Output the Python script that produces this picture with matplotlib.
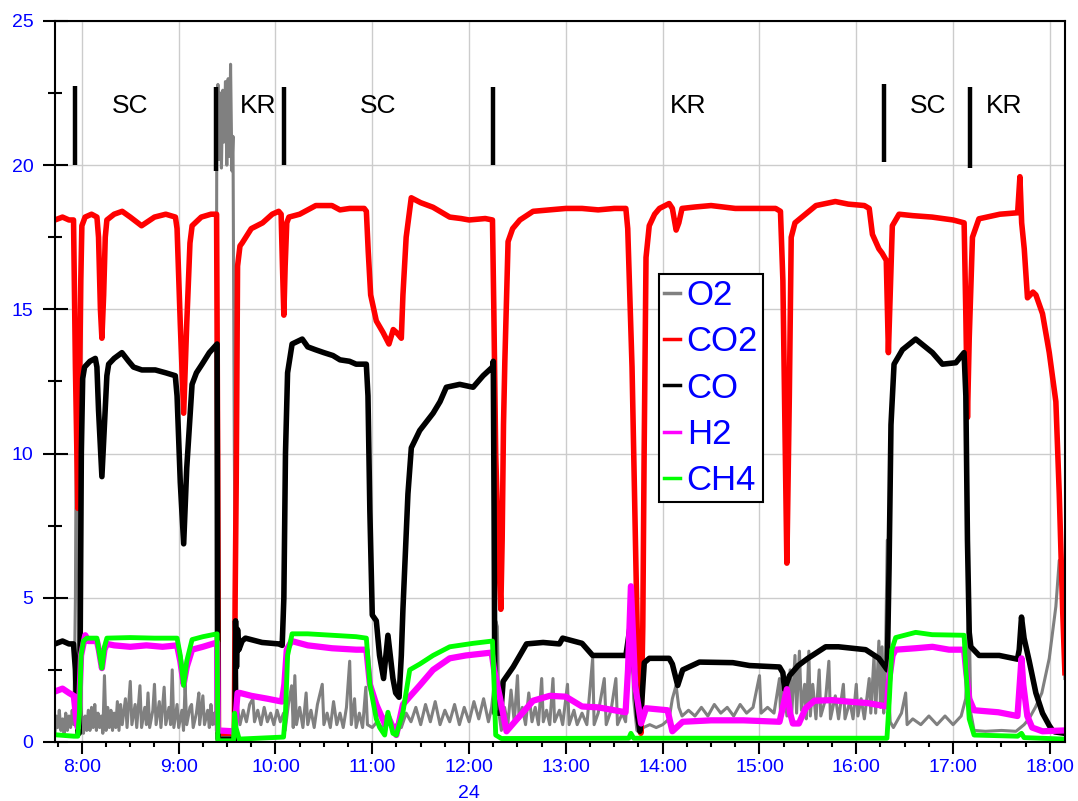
import matplotlib
matplotlib.use("Agg")
import matplotlib.pyplot as plt
import matplotlib.dates as mdates
import matplotlib.transforms as mtransforms
from matplotlib.ticker import FuncFormatter, MultipleLocator
import pandas as pd

plt.rcParams["font.family"] = ["Liberation Sans", "DejaVu Sans"]

day = pd.Timestamp("2008-01-24")

# (clock time, percent)
o2 = [
    ("7:43:20", 0.3), ("7:44", 0.9), ("7:45", 0.5), ("7:46", 1.1), ("7:47", 0.4), ("7:48", 0.8),
    ("7:49", 0.3), ("7:50", 1.0), ("7:51", 0.4), ("7:52", 0.9), ("7:53", 0.5), ("7:54", 1.1),
    ("7:55", 0.6), ("7:56", 5.0), ("7:56:40", 12.5), ("7:57:20", 11.0), ("7:58:10", 4.0),
    ("7:59", 1.5), ("8:00", 0.8), ("8:01", 0.3), ("8:02", 0.9), ("8:03", 0.4), ("8:04", 1.1),
    ("8:05", 0.4), ("8:06", 1.2), ("8:07", 0.5), ("8:08", 1.3), ("8:09", 0.4), ("8:10", 1.0),
    ("8:11", 0.5), ("8:12", 0.9), ("8:13", 0.3), ("8:14", 2.3), ("8:15", 0.4), ("8:16", 1.2),
    ("8:17", 0.5), ("8:18", 1.1), ("8:19", 0.4), ("8:20", 1.0), ("8:21", 0.5), ("8:22", 1.4),
    ("8:23", 0.4), ("8:24", 1.3), ("8:25", 0.6), ("8:27", 1.5), ("8:28", 0.5), ("8:30", 2.1),
    ("8:31", 0.6), ("8:33", 1.3), ("8:34", 0.5), ("8:36", 1.95), ("8:37", 0.5), ("8:39", 1.2),
    ("8:40", 0.6), ("8:41", 1.7), ("8:42", 0.5), ("8:44", 1.1), ("8:45", 2.0), ("8:46", 0.6),
    ("8:48", 1.4), ("8:49", 0.5), ("8:51", 1.9), ("8:52", 0.6), ("8:54", 1.2), ("8:55", 0.6),
    ("8:56", 2.5), ("8:57", 0.5), ("8:59", 1.3), ("9:00", 0.5), ("9:02", 1.1), ("9:03", 0.4),
    ("9:04", 2.0), ("9:05", 0.6), ("9:07", 1.2), ("9:08", 1.3), ("9:09", 0.5), ("9:11", 1.0),
    ("9:12:30", 1.7), ("9:13", 0.6), ("9:15", 1.6), ("9:16", 0.6), ("9:18", 1.1), ("9:19", 0.5),
    ("9:20", 1.3), ("9:21", 0.6), ("9:22", 1.0), ("9:23", 0.6), ("9:23:36", 20.5),
    ("9:24:20", 22.8), ("9:25", 20.2), ("9:25:50", 22.5), ("9:26:30", 19.9), ("9:27:20", 22.6),
    ("9:28", 20.8), ("9:29", 22.9), ("9:29:50", 20.0), ("9:30:40", 23.0), ("9:31:30", 20.3),
    ("9:32:10", 23.5), ("9:33", 19.8), ("9:33:40", 21.0), ("9:34:30", 10.0), ("9:35:20", 3.5),
    ("9:36:30", 1.2), ("9:38", 0.6), ("9:40", 1.1), ("9:42", 0.7), ("9:44", 1.3), ("9:46", 1.5),
    ("9:47", 0.7), ("9:49", 1.1), ("9:51", 0.6), ("9:53", 1.2), ("9:55", 0.7), ("9:57", 1.0),
    ("9:59", 0.6), ("10:01", 1.1), ("10:03", 0.7), ("10:05", 1.0), ("10:06", 0.4), ("10:08", 1.3),
    ("10:10", 1.95), ("10:11", 0.5), ("10:12", 2.3), ("10:13", 0.6), ("10:15", 1.2), ("10:17", 0.5),
    ("10:19", 1.7), ("10:20", 0.6), ("10:22", 1.1), ("10:24", 0.5), ("10:26", 1.3), ("10:29", 2.0),
    ("10:30", 0.6), ("10:32", 1.0), ("10:34", 0.5), ("10:36", 1.4), ("10:38", 0.6), ("10:40", 1.0),
    ("10:42", 0.5), ("10:44", 1.2), ("10:46", 2.8), ("10:47", 0.6), ("10:49", 1.5), ("10:50", 0.5),
    ("10:52", 1.0), ("10:54", 0.5), ("10:56", 1.9), ("10:57", 0.6), ("11:00", 0.5), ("11:03", 0.7),
    ("11:06", 0.5), ("11:09", 0.8), ("11:12", 0.5), ("11:15", 0.6), ("11:18", 0.5), ("11:21", 1.0),
    ("11:24", 0.7), ("11:27", 1.2), ("11:30", 0.6), ("11:33", 1.3), ("11:36", 0.7), ("11:39", 1.4),
    ("11:42", 0.6), ("11:45", 1.1), ("11:48", 0.7), ("11:51", 1.3), ("11:54", 0.6), ("11:57", 1.2),
    ("12:00", 0.7), ("12:03", 1.4), ("12:06", 0.8), ("12:09", 1.5), ("12:12", 0.7), ("12:14", 1.2),
    ("12:15:30", 2.0), ("12:16:30", 4.2), ("12:17:30", 4.0), ("12:18:30", 1.0), ("12:20", 0.4),
    ("12:22", 1.2), ("12:24", 0.6), ("12:26", 1.8), ("12:28", 0.7), ("12:30", 2.3), ("12:31", 0.8),
    ("12:33", 1.2), ("12:35", 0.6), ("12:37", 1.7), ("12:39", 0.7), ("12:41", 1.2), ("12:43", 0.6),
    ("12:45", 2.2), ("12:46", 0.7), ("12:48", 1.1), ("12:50", 0.6), ("12:52", 2.2), ("12:53", 0.7),
    ("12:56", 1.1), ("12:58", 0.6), ("13:01", 2.0), ("13:02", 0.6), ("13:05", 1.1), ("13:07", 0.6),
    ("13:10", 1.0), ("13:13", 0.6), ("13:16:36", 2.9), ("13:17:30", 0.6), ("13:20", 1.0),
    ("13:23:48", 2.2), ("13:25", 0.6), ("13:28", 1.1), ("13:31", 2.2), ("13:32", 0.6), ("13:35", 1.0),
    ("13:37", 0.7), ("13:39", 2.5), ("13:40:30", 4.5), ("13:42", 1.5), ("13:44", 0.4), ("13:46", 0.3),
    ("13:48", 0.5), ("13:52", 0.6), ("13:56", 0.5), ("14:00", 0.6), ("14:04", 0.8), ("14:06", 1.5),
    ("14:08:18", 1.96), ("14:10", 1.2), ("14:12", 0.9), ("14:16", 1.1), ("14:20", 0.9), ("14:24", 1.2),
    ("14:28", 0.9), ("14:32", 1.3), ("14:36", 1.0), ("14:40", 1.2), ("14:44", 0.9), ("14:48", 1.3),
    ("14:52", 1.0), ("14:56", 1.2), ("15:00", 2.3), ("15:01", 1.0), ("15:05", 1.2), ("15:09", 1.0),
    ("15:12:24", 2.2), ("15:13", 1.0), ("15:15", 2.0), ("15:17", 0.9), ("15:19", 2.5), ("15:20", 1.0),
    ("15:22", 3.0), ("15:23", 1.0), ("15:24:45", 3.15), ("15:26", 1.1), ("15:28", 2.0), ("15:29", 0.8),
    ("15:30:36", 3.15), ("15:31:30", 0.9), ("15:33", 2.0), ("15:35", 0.8), ("15:37", 2.5),
    ("15:38", 0.9), ("15:41", 1.5), ("15:43", 2.8), ("15:44", 0.8), ("15:47", 1.6), ("15:49", 0.8),
    ("15:52", 2.0), ("15:53", 0.8), ("15:56", 1.4), ("15:58", 0.8), ("16:00", 2.0), ("16:01", 0.9),
    ("16:03", 1.5), ("16:05", 0.8), ("16:08", 2.2), ("16:09", 1.0), ("16:11", 3.0), ("16:12", 1.0),
    ("16:14", 3.5), ("16:15", 1.2), ("16:16", 3.3), ("16:17", 1.0), ("16:18", 2.5), ("16:19:12", 7.0),
    ("16:20", 2.0), ("16:21", 0.7), ("16:23", 0.5), ("16:26", 0.8), ("16:28", 1.0), ("16:30:36", 1.7),
    ("16:31:30", 0.6), ("16:35", 0.8), ("16:40", 0.6), ("16:45", 0.9), ("16:50", 0.6), ("16:55", 0.9),
    ("17:00", 0.6), ("17:05", 0.9), ("17:07:50", 1.5), ("17:09:50", 4.7), ("17:11", 1.0),
    ("17:13", 0.4), ("17:20", 0.37), ("17:30", 0.4), ("17:39", 0.37), ("17:44", 0.6), ("17:47", 0.8),
    ("17:51", 1.2), ("17:55", 1.7), ("17:59:36", 2.9), ("18:03:42", 4.7), ("18:05:48", 6.3),
    ("18:07:54", 5.5), ("18:09:18", 2.2),
]

co2 = [
    ("7:43:20", 18.1), ("7:48", 18.2), ("7:52", 18.1), ("7:54:50", 18.1), ("7:56", 13.0),
    ("7:57:30", 8.1), ("7:58:30", 12.0), ("7:59:20", 16.0), ("8:00", 17.9), ("8:02", 18.2),
    ("8:06", 18.3), ("8:09:20", 18.2), ("8:10:20", 17.5), ("8:11:30", 15.0), ("8:12:25", 14.0),
    ("8:13:30", 15.5), ("8:14:30", 17.5), ("8:15:30", 18.1), ("8:20", 18.3), ("8:25", 18.4),
    ("8:30", 18.2), ("8:37", 17.9), ("8:45", 18.2), ("8:52", 18.3), ("8:58", 18.2), ("8:59", 17.8),
    ("9:01", 14.5), ("9:03:06", 11.4), ("9:05", 14.5), ("9:07", 17.3), ("9:08:20", 17.9),
    ("9:14", 18.2), ("9:20", 18.3), ("9:23:30", 18.3), ("9:24:10", 10.0), ("9:24:40", 0.3),
    ("9:34:30", 0.3), ("9:35", 5.0), ("9:35:40", 9.0), ("9:36:30", 16.5), ("9:38", 17.2),
    ("9:39:20", 17.3), ("9:45", 17.8), ("9:52", 18.0), ("9:58", 18.3), ("10:02", 18.4),
    ("10:03:30", 18.3), ("10:04:20", 16.5), ("10:05:12", 14.8), ("10:06", 16.5), ("10:07", 18.0),
    ("10:08:20", 18.2), ("10:15", 18.3), ("10:25", 18.6), ("10:35", 18.6), ("10:40", 18.45),
    ("10:46", 18.5), ("10:55", 18.5), ("10:56:20", 18.4), ("10:57:30", 17.0), ("10:59", 15.5),
    ("11:02:30", 14.6), ("11:06:40", 14.2), ("11:10:20", 13.8), ("11:13", 14.3), ("11:15", 14.2),
    ("11:18", 14.0), ("11:19", 15.5), ("11:21", 17.5), ("11:24:10", 18.87), ("11:30", 18.7),
    ("11:37:40", 18.54), ("11:45", 18.3), ("11:48", 18.2), ("11:55", 18.15), ("12:00", 18.1),
    ("12:10", 18.15), ("12:14:30", 18.1), ("12:15:20", 15.0), ("12:16:30", 10.0), ("12:18", 7.0),
    ("12:19:40", 4.6), ("12:20:30", 7.0), ("12:21:20", 11.0), ("12:22:10", 13.2), ("12:24:10", 17.35),
    ("12:27", 17.8), ("12:31:30", 18.1), ("12:39:40", 18.4), ("12:50", 18.45), ("13:00", 18.5),
    ("13:10", 18.5), ("13:20", 18.45), ("13:30", 18.5), ("13:37:10", 18.5), ("13:38:20", 17.8),
    ("13:41", 13.0), ("13:44:30", 3.0), ("13:46:30", 0.3), ("13:47:40", 4.0), ("13:48:30", 10.0),
    ("13:49:40", 16.8), ("13:51:40", 17.9), ("13:55", 18.3), ("13:58", 18.5), ("14:04", 18.67),
    ("14:06", 18.5), ("14:08:20", 17.75), ("14:10", 18.0), ("14:12", 18.5), ("14:20", 18.55),
    ("14:30", 18.6), ("14:45", 18.5), ("15:00", 18.5), ("15:10", 18.5), ("15:13", 18.4),
    ("15:14:30", 16.0), ("15:16:58", 6.2), ("15:18:30", 12.0), ("15:19:40", 17.5), ("15:22", 18.0),
    ("15:25", 18.14), ("15:35", 18.6), ("15:47", 18.74), ("15:55", 18.65), ("16:05", 18.6),
    ("16:08", 18.5), ("16:10", 17.6), ("16:14", 17.1), ("16:16", 16.95), ("16:18:35", 16.7),
    ("16:19:54", 13.5), ("16:21", 15.5), ("16:22:20", 17.9), ("16:26:30", 18.3), ("16:35", 18.25),
    ("16:47", 18.2), ("17:00", 18.1), ("17:06:50", 18.0), ("17:07:50", 15.0), ("17:08:55", 11.25),
    ("17:10", 14.0), ("17:12", 17.5), ("17:16", 18.14), ("17:29", 18.3), ("17:40", 18.35),
    ("17:41:25", 19.6), ("17:42:30", 18.0), ("17:44:06", 17.1), ("17:46:06", 15.4), ("17:49:30", 15.6),
    ("17:51:20", 15.5), ("17:55:25", 14.85), ("17:59:36", 13.5), ("18:03:42", 11.8), ("18:05:48", 8.6),
    ("18:07:54", 4.6), ("18:09:18", 2.4),
]

co = [
    ("7:43:20", 3.4), ("7:48", 3.5), ("7:52", 3.4), ("7:54:50", 3.4), ("7:56", 2.5), ("7:56:50", 1.0),
    ("7:57:40", 0.3), ("7:58:20", 0.3), ("7:59", 4.0), ("7:59:40", 10.0), ("8:00:30", 12.6),
    ("8:01:40", 13.0), ("8:05", 13.2), ("8:08:20", 13.3), ("8:09:20", 13.0), ("8:10:20", 11.5),
    ("8:12:25", 9.2), ("8:14", 11.0), ("8:15:30", 12.7), ("8:16:36", 13.1), ("8:20", 13.3),
    ("8:24:50", 13.5), ("8:29", 13.2), ("8:32", 13.0), ("8:37:10", 12.9), ("8:45:30", 12.9),
    ("8:52", 12.8), ("8:57:54", 12.7), ("8:59", 12.0), ("9:01", 9.0), ("9:03:06", 6.87),
    ("9:05", 9.5), ("9:08:18", 12.4), ("9:11", 12.8), ("9:14:30", 13.1), ("9:19", 13.5),
    ("9:23:48", 13.8), ("9:24:10", 5.0), ("9:24:30", 0.1), ("9:35", 0.1), ("9:35:15", 4.2),
    ("9:35:50", 2.6), ("9:36:30", 3.9), ("9:37:20", 3.2), ("9:39:20", 3.5), ("9:41:24", 3.6),
    ("9:51:42", 3.45), ("10:02", 3.4), ("10:04:10", 3.35), ("10:05:12", 5.0), ("10:06:12", 10.0),
    ("10:07:30", 12.8), ("10:10:18", 13.8), ("10:16:36", 13.97), ("10:20", 13.7), ("10:24:50", 13.6),
    ("10:30", 13.5), ("10:35:36", 13.4), ("10:40", 13.25), ("10:45:54", 13.2), ("10:50", 13.1),
    ("10:56:18", 13.1), ("10:57:20", 12.0), ("10:58:30", 8.0), ("11:00", 4.4), ("11:02:30", 4.2),
    ("11:04:30", 3.0), ("11:07", 2.2), ("11:09:42", 3.7), ("11:12:48", 2.2), ("11:14:30", 1.7),
    ("11:16:36", 1.55), ("11:18", 3.0), ("11:19", 4.6), ("11:22:06", 8.6), ("11:24:12", 10.2),
    ("11:29:24", 10.8), ("11:37:42", 11.4), ("11:42", 11.8), ("11:45:54", 12.3), ("11:54:12", 12.4),
    ("12:02:30", 12.3), ("12:08:42", 12.7), ("12:14:30", 13.0), ("12:15", 13.2), ("12:15:30", 8.0),
    ("12:16", 1.0), ("12:19:40", 1.0), ("12:21:06", 2.1), ("12:27:18", 2.6), ("12:35:36", 3.4),
    ("12:45:54", 3.45), ("12:56", 3.4), ("12:58", 3.6), ("13:10", 3.42), ("13:16:36", 3.0),
    ("13:37:12", 3.0), ("13:40:18", 4.2), ("13:44:30", 0.9), ("13:45:54", 0.37), ("13:48:36", 2.75),
    ("13:51:42", 2.9), ("14:04", 2.9), ("14:06", 2.7), ("14:09:18", 1.96), ("14:12:24", 2.5),
    ("14:22:48", 2.77), ("14:43:30", 2.75), ("14:53:48", 2.65), ("15:12:24", 2.6), ("15:14:30", 2.4),
    ("15:15:30", 1.83), ("15:18:36", 2.3), ("15:24", 2.65), ("15:30", 2.9), ("15:41", 3.3),
    ("15:49", 3.3), ("16:05:48", 3.2), ("16:14", 2.9), ("16:19:12", 2.5), ("16:20:18", 6.0),
    ("16:21:30", 11.0), ("16:23:24", 13.1), ("16:28:36", 13.6), ("16:36:48", 13.97), ("16:47:12", 13.5),
    ("16:53:24", 13.1), ("17:01:42", 13.15), ("17:06:48", 13.5), ("17:07:54", 12.0), ("17:08:54", 7.0),
    ("17:10", 3.8), ("17:11", 3.3), ("17:16:06", 3.0), ("17:28:36", 3.0), ("17:39:54", 2.87),
    ("17:41", 3.2), ("17:42:24", 4.33), ("17:44", 3.6), ("17:47:12", 2.8), ("17:51:18", 1.7),
    ("17:55:24", 1.0), ("17:59:36", 0.57), ("18:01:40", 0.4), ("18:03", 0.35), ("18:09", 0.3),
]

h2 = [
    ("7:43:20", 1.75), ("7:48", 1.85), ("7:52", 1.7), ("7:55", 1.6), ("7:56:30", 0.8), ("7:57:30", 0.5),
    ("7:58:30", 1.5), ("7:59:30", 3.0), ("8:02:06", 3.7), ("8:04", 3.5), ("8:09:20", 3.5),
    ("8:10:30", 3.2), ("8:12:25", 2.56), ("8:14", 3.2), ("8:15:30", 3.4), ("8:20", 3.35), ("8:30", 3.3),
    ("8:40", 3.35), ("8:50", 3.3), ("8:59", 3.35), ("9:01", 2.8), ("9:03:06", 2.0), ("9:05", 2.6),
    ("9:08:18", 3.2), ("9:15", 3.3), ("9:23:48", 3.45), ("9:24:20", 0.4), ("9:34", 0.37),
    ("9:34:40", 0.3), ("9:35:30", 1.0), ("9:36:30", 1.7), ("9:38", 1.7), ("9:45", 1.6), ("9:55", 1.5),
    ("10:04", 1.4), ("10:05:30", 2.0), ("10:07", 3.2), ("10:10", 3.5), ("10:20", 3.35), ("10:35", 3.25),
    ("10:50", 3.2), ("10:56:20", 3.2), ("10:58:30", 2.0), ("11:02:30", 1.3), ("11:07:40", 0.64),
    ("11:09:40", 0.9), ("11:14:54", 0.24), ("11:19", 1.3), ("11:23:12", 1.57), ("11:29:24", 1.96),
    ("11:37:40", 2.5), ("11:48", 2.9), ("11:58", 3.0), ("12:14", 3.1), ("12:15:30", 2.5),
    ("12:19", 1.57), ("12:23:12", 0.37), ("12:29:24", 0.77), ("12:39:40", 1.43), ("12:50", 1.6),
    ("13:00", 1.57), ("13:10", 1.23), ("13:20", 1.2), ("13:37", 1.03), ("13:38:30", 2.5),
    ("13:40:18", 5.4), ("13:42:58", 1.96), ("13:46:36", 0.64), ("13:49:40", 1.17), ("14:03", 1.1),
    ("14:06", 0.37), ("14:12:24", 0.7), ("14:30", 0.75), ("14:50", 0.75), ("15:12:24", 0.7),
    ("15:14:30", 1.2), ("15:16:58", 1.83), ("15:19", 1.0), ("15:20:42", 0.64), ("15:24:24", 0.64),
    ("15:28:36", 1.17), ("15:34", 1.43), ("15:45", 1.45), ("15:55", 1.4), ("16:07", 1.35),
    ("16:19", 1.23), ("16:20", 2.0), ("16:22:30", 3.0), ("16:24:24", 3.2), ("16:36:48", 3.25),
    ("16:47:12", 3.3), ("16:57:30", 3.2), ("17:06:48", 3.2), ("17:08", 2.5), ("17:10", 1.5),
    ("17:13", 1.1), ("17:28", 1.03), ("17:39:54", 0.9), ("17:42:24", 2.9), ("17:43:30", 2.0),
    ("17:46", 0.9), ("17:49", 0.5), ("17:55:24", 0.37), ("18:09", 0.4),
]

ch4 = [
    ("7:43:20", 0.25), ("7:55", 0.2), ("7:57:30", 0.2), ("7:58:30", 1.0), ("7:59:30", 3.0),
    ("8:01", 3.5), ("8:03:06", 3.6), ("8:09:20", 3.6), ("8:10:30", 3.2), ("8:12:25", 2.56),
    ("8:14", 3.3), ("8:15:30", 3.6), ("8:30", 3.62), ("8:45", 3.6), ("8:59", 3.6), ("9:01", 3.0),
    ("9:03:06", 1.96), ("9:05", 2.8), ("9:08:18", 3.55), ("9:15", 3.65), ("9:23:48", 3.75),
    ("9:24:20", 0.04), ("9:34", 0.04), ("9:34:40", 1.0), ("9:35:30", 0.5), ("9:37:30", 0.1),
    ("10:05", 0.17), ("10:06:12", 1.0), ("10:07:30", 3.0), ("10:10:18", 3.75), ("10:20", 3.75),
    ("10:35", 3.7), ("10:50", 3.65), ("10:56:20", 3.6), ("10:58:30", 2.0), ("11:02:30", 0.8),
    ("11:04:36", 0.5), ("11:07:42", 0.24), ("11:09:42", 1.03), ("11:12:48", 0.3), ("11:14:54", 0.24),
    ("11:19", 1.03), ("11:23:12", 2.5), ("11:29:24", 2.7), ("11:37:40", 3.0), ("11:48", 3.3),
    ("12:02:30", 3.42), ("12:14:30", 3.5), ("12:15:30", 2.0), ("12:16:30", 0.24), ("12:20", 0.12),
    ("13:39", 0.13), ("13:40:18", 0.3), ("13:42", 0.13), ("16:19", 0.13), ("16:20:30", 1.5),
    ("16:22", 3.2), ("16:24:24", 3.62), ("16:36:48", 3.8), ("16:47", 3.72), ("17:06:48", 3.7),
    ("17:08", 2.5), ("17:10", 0.8), ("17:13", 0.24), ("17:40", 0.2), ("17:42:24", 0.3),
    ("17:44", 0.15), ("18:09", 0.1),
]

# operating phase markers and labels
phase_bars = ["7:56", "9:23", "10:05", "12:15", "16:17:20", "17:10:20"]
bar_low = [20.0, 19.8, 20.0, 20.0, 20.1, 19.9]
bar_high = [22.75, 22.7, 22.7, 22.7, 22.8, 22.7]
phase_names = ["SC", "KR", "SC", "KR", "SC", "KR"]
phase_label_at = ["8:29:50", "9:49", "11:03:30", "14:16", "16:44:30", "17:31:30"]


def clock(t):
    parts = [int(p) for p in t.split(":")]
    while len(parts) < 3:
        parts.append(0)
    return day + pd.Timedelta(hours=parts[0], minutes=parts[1], seconds=parts[2])


def split(series):
    return [clock(t) for t, _ in series], [v for _, v in series]


fig = plt.figure(figsize=(10.78, 8.01), dpi=100)
ax = fig.add_axes([0.051, 0.0737, 0.9369, 0.9001])

styles = [
    ("O2", o2, "#808080", 2.2),
    ("CO2", co2, "#ff0000", 4.0),
    ("CO", co, "#000000", 4.0),
    ("H2", h2, "#ff00ff", 4.5),
    ("CH4", ch4, "#00ff00", 3.5),
]
for name, series, color, lw in styles:
    x, y = split(series)
    ax.plot(x, y, color=color, lw=lw, label=name, solid_joinstyle="round")

for t, lo, hi in zip(phase_bars, bar_low, bar_high):
    ax.plot([clock(t), clock(t)], [lo, hi], color="black", lw=3.2, solid_capstyle="butt")
for t, name in zip(phase_label_at, phase_names):
    ax.text(clock(t), 22.05, name, ha="center", va="center", fontsize=19, color="black")

ax.set_xlim(clock("7:43:20"), clock("18:09:20"))
ax.set_ylim(0, 25)

ax.xaxis.set_major_locator(mdates.HourLocator())
ax.xaxis.set_minor_locator(mdates.MinuteLocator(byminute=[15, 30, 45]))
ax.xaxis.set_major_formatter(
    FuncFormatter(lambda v, pos: f"{mdates.num2date(v).hour}:00"))
ax.yaxis.set_major_locator(MultipleLocator(5))
ax.yaxis.set_minor_locator(MultipleLocator(2.5))

ax.tick_params(axis="x", which="major", direction="out", length=8.5, width=1.5,
               labelsize=14, labelcolor="#0000ff", pad=4)
ax.tick_params(axis="x", which="minor", direction="out", length=3.6, width=1.5)
ax.tick_params(axis="y", which="major", direction="inout", length=18, width=1.5,
               labelsize=14, labelcolor="#0000ff", pad=6.5)
ax.tick_params(axis="y", which="minor", direction="inout", length=10, width=1.5)

ax.grid(which="major", color="#cccccc", lw=1)
ax.set_axisbelow(True)
for sp in ax.spines.values():
    sp.set_linewidth(1.5)

trans = mtransforms.blended_transform_factory(ax.transData, ax.transAxes)
ax.text(clock("12:00"), -0.071, "24", transform=trans, ha="center", va="center",
        fontsize=14, color="#0000ff")

leg = ax.legend(loc="upper left", bbox_to_anchor=(0.598, 0.649), borderaxespad=0,
                fontsize=25, handlelength=0.45, handletextpad=0.2, labelspacing=0.38,
                borderpad=0.15, fancybox=False, framealpha=1, edgecolor="black")
leg.get_frame().set_linewidth(1.5)
for txt in leg.get_texts():
    txt.set_color("#0000ff")
for line in leg.get_lines():
    line.set_linewidth(2.5)

fig.savefig("out.png", dpi=100)
